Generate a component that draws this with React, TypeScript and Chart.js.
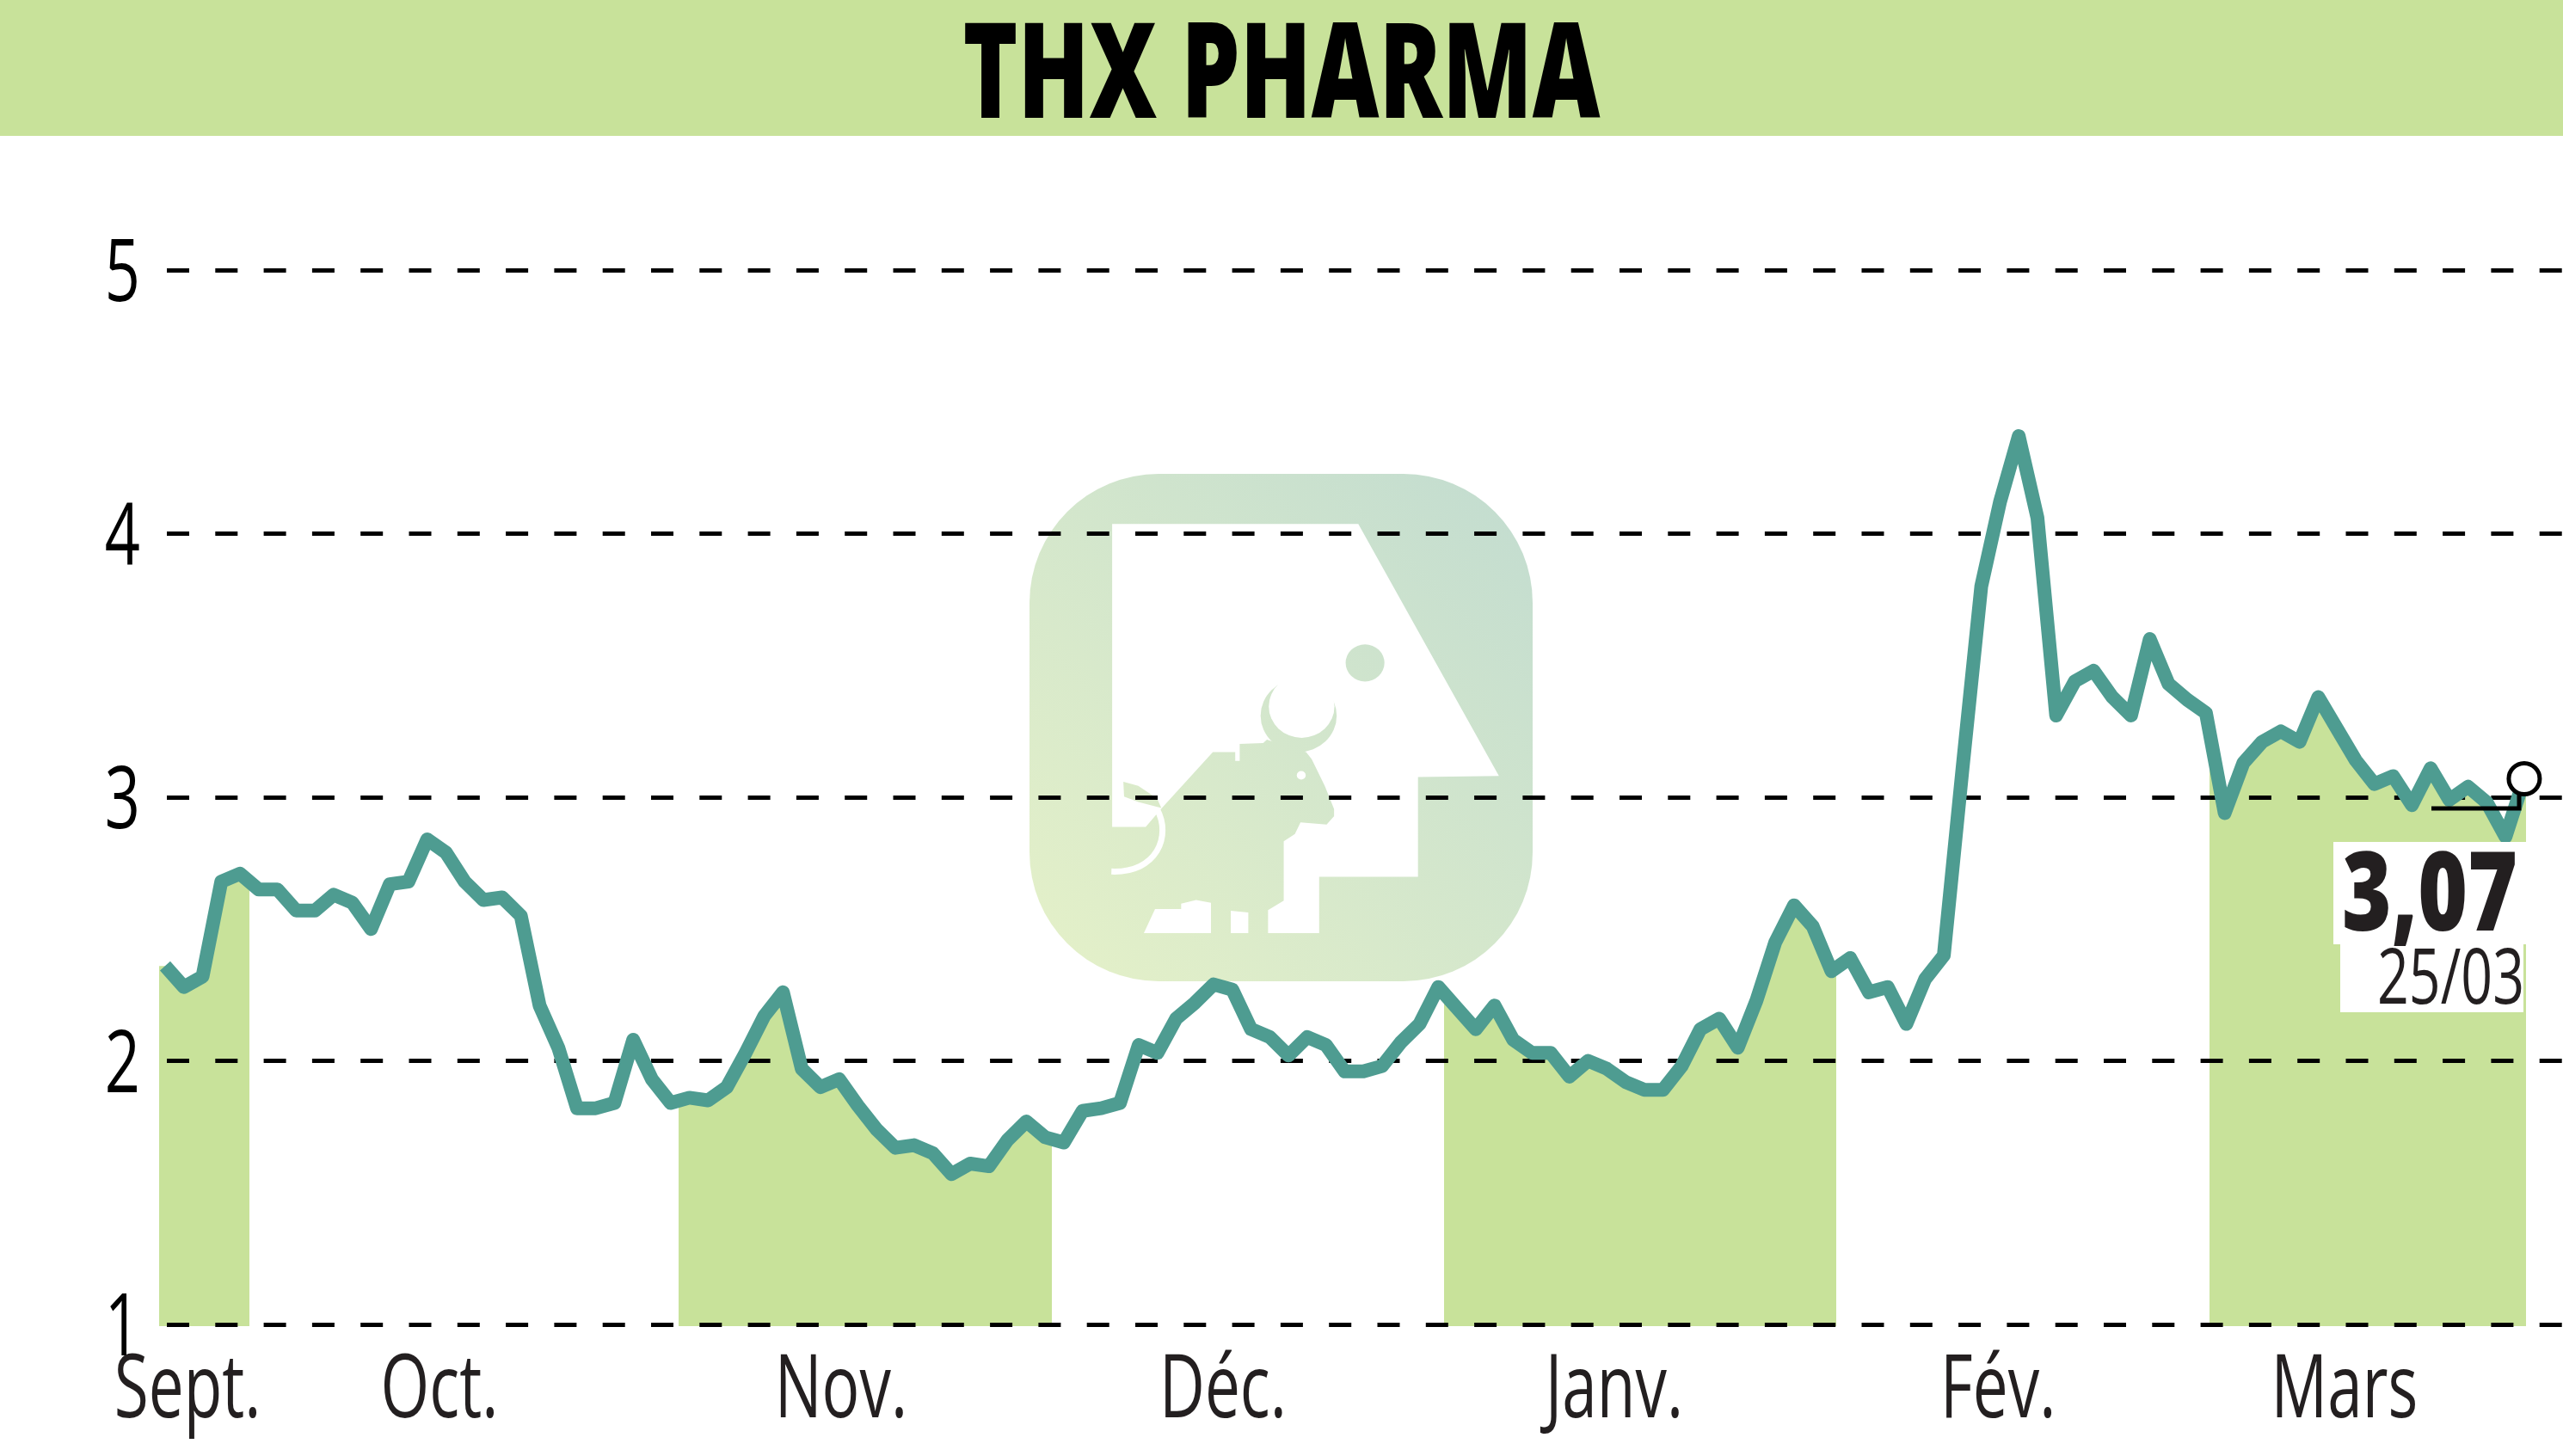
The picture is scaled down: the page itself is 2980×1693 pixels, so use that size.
import { useEffect, useRef } from "react";
import { Chart, registerables } from "chart.js";

Chart.register(...registerables);

const title = "THX PHARMA";
const monthLabels = ["Sept.", "Oct.", "Nov.", "Déc.", "Janv.", "Fév.", "Mars"];
const monthTickAt = [1.2, 14.65, 36.1, 56.5, 77.4, 97.9, 116.4];
const yTicks = [1, 2, 3, 4, 5];

// cours de cloture
const prices = [
  2.36, 2.28, 2.32, 2.68, 2.71, 2.65, 2.65, 2.57, 2.57, 2.63,
  2.6, 2.5, 2.67, 2.68, 2.84, 2.79, 2.68, 2.61, 2.62, 2.55,
  2.21, 2.05, 1.82, 1.82, 1.84, 2.08, 1.93, 1.84, 1.86, 1.85,
  1.9, 2.03, 2.17, 2.26, 1.97, 1.9, 1.93, 1.83, 1.74, 1.67,
  1.68, 1.65, 1.57, 1.61, 1.6, 1.7, 1.77, 1.71, 1.69, 1.81,
  1.82, 1.84, 2.06, 2.03, 2.16, 2.22, 2.29, 2.27, 2.12, 2.09,
  2.02, 2.09, 2.06, 1.96, 1.96, 1.98, 2.07, 2.14, 2.28, 2.2,
  2.12, 2.21, 2.08, 2.03, 2.03, 1.94, 2.0, 1.97, 1.92, 1.89,
  1.89, 1.98, 2.12, 2.16, 2.05, 2.23, 2.45, 2.59, 2.51, 2.34,
  2.39, 2.26, 2.28, 2.14, 2.31, 2.4, 3.11, 3.8, 4.12, 4.37,
  4.06, 3.31, 3.44, 3.48, 3.38, 3.31, 3.6, 3.43, 3.37, 3.32,
  2.94, 3.13, 3.21, 3.25, 3.21, 3.38, 3.26, 3.14, 3.05, 3.08,
  2.97, 3.11, 2.99, 3.04, 2.98, 2.85, 3.07,
];

// zones vertes (un mois sur deux), en indice de seance
const bandStarts = [-0.32, 27.42, 68.3, 109.2];
const bandEnds = [4.5, 47.35, 89.25, 126.1];

const lastValue = "3,07";
const lastDate = "25/03";

const FONT = '"Open Sans"';
const GREEN = "#C8E29A";
const LINE = "#4E9C91";

// texte resserre a l'horizontale, faute de police condensee.
// fit > 1 : largeur voulue en pixels, sinon facteur de resserrement
function squeezedText(
  ctx: CanvasRenderingContext2D,
  text: string,
  x: number,
  y: number,
  font: string,
  fit: number,
  align: CanvasTextAlign,
  color: string,
) {
  ctx.save();
  ctx.font = font;
  const squeeze = fit > 1 ? fit / ctx.measureText(text).width : fit;
  ctx.translate(x, y);
  ctx.scale(squeeze, 1);
  ctx.textAlign = align;
  ctx.textBaseline = "alphabetic";
  ctx.fillStyle = color;
  ctx.fillText(text, 0, 0);
  ctx.restore();
}

// le logo en filigrane derriere la courbe
function drawLogo(ctx: CanvasRenderingContext2D) {
  const px = (z: number) => 1150 + z / 2.306;
  const py = (z: number) => 520 + z / 2.412;
  const grad = ctx.createLinearGradient(1197, 1141, 1782, 551);
  grad.addColorStop(0, "#E5F1C8");
  grad.addColorStop(1, "#C2DCD0");

  const poly = (pts: number[][], fill: string | CanvasGradient) => {
    ctx.beginPath();
    pts.forEach((p, i) => (i ? ctx.lineTo(px(p[0]), py(p[1])) : ctx.moveTo(px(p[0]), py(p[1]))));
    ctx.closePath();
    ctx.fillStyle = fill;
    ctx.fill();
  };
  const blob = (cx: number, cy: number, r: number, fill: string | CanvasGradient) => {
    ctx.beginPath();
    ctx.ellipse(px(cx), py(cy), r / 2.306, r / 2.412, 0, 0, Math.PI * 2);
    ctx.fillStyle = fill;
    ctx.fill();
  };

  ctx.beginPath();
  ctx.roundRect(1197, 551, 585, 590, 150);
  ctx.fillStyle = grad;
  ctx.fill();

  poly(
    [
      [330, 215], [990, 215], [1367, 922], [1150, 925], [1150, 1205], [885, 1205], [885, 1363],
      [748, 1363], [748, 1298], [790, 1272], [790, 1105], [820, 1085], [835, 1052], [905, 1058],
      [925, 1035], [925, 1015], [900, 950], [865, 875], [850, 855], [830, 850], [745, 820], [735, 830],
      [672, 832], [672, 880], [660, 880], [660, 855], [600, 855], [465, 1010], [420, 1065], [330, 1065],
    ],
    "#fff",
  );
  poly([[360, 938], [400, 950], [450, 985], [462, 1012], [400, 995], [362, 980]], grad);
  poly([[445, 1295], [515, 1295], [515, 1280], [555, 1270], [595, 1278], [595, 1363], [415, 1363]], "#fff");
  poly([[648, 1300], [695, 1305], [695, 1363], [648, 1363]], "#fff");

  // cornes : un disque creuse par un disque blanc
  blob(830, 753, 102, grad);
  blob(838, 727, 88, "#fff");

  // queue
  ctx.beginPath();
  ctx.moveTo(px(450), py(1015));
  ctx.bezierCurveTo(px(490), py(1090), px(450), py(1195), px(328), py(1190));
  ctx.strokeStyle = "#fff";
  ctx.lineWidth = 7;
  ctx.stroke();

  // oeil et point
  blob(837, 920, 12, "#fff");
  blob(1008, 605, 52, grad);
}

const backdropPlugin = {
  id: "backdrop",
  beforeDraw(chart: any) {
    const { ctx, scales } = chart;
    ctx.save();
    ctx.fillStyle = GREEN;
    ctx.fillRect(0, 0, 2980, 158);
    squeezedText(ctx, title, 1490, 137, `800 155px ${FONT}`, 741, "center", "#000");

    drawLogo(ctx);

    const base = scales.y.getPixelForValue(1) + 2;
    bandStarts.forEach((start, b) => {
      const left = Math.round(scales.x.getPixelForValue(start));
      const right = Math.round(scales.x.getPixelForValue(bandEnds[b]));
      ctx.save();
      ctx.beginPath();
      ctx.rect(left, 0, right - left, base);
      ctx.clip();
      ctx.beginPath();
      ctx.moveTo(0, base);
      ctx.lineTo(0, scales.y.getPixelForValue(prices[0]));
      prices.forEach((v, i) => ctx.lineTo(scales.x.getPixelForValue(i), scales.y.getPixelForValue(v)));
      ctx.lineTo(2980, scales.y.getPixelForValue(3.0));
      ctx.lineTo(2980, base);
      ctx.closePath();
      ctx.fillStyle = GREEN;
      ctx.fill();
      ctx.restore();
    });
    ctx.restore();
  },
};

const labelsPlugin = {
  id: "labels",
  afterDraw(chart: any) {
    const { ctx, scales } = chart;

    // renvoi du dernier cours
    ctx.save();
    ctx.strokeStyle = "#000";
    ctx.lineWidth = 5;
    ctx.beginPath();
    ctx.moveTo(2929, 922);
    ctx.lineTo(2929, 940);
    ctx.lineTo(2827, 940);
    ctx.stroke();
    ctx.fillStyle = "#fff";
    ctx.fillRect(2713, 979, 225, 119);
    ctx.fillRect(2721, 1098, 213, 79);
    ctx.restore();
    squeezedText(ctx, lastValue, 2927, 1082, `800 127px ${FONT}`, 204, "right", "#231F20");
    squeezedText(ctx, lastDate, 2935, 1167, `90px ${FONT}`, 171, "right", "#231F20");

    yTicks.forEach((v) => {
      squeezedText(ctx, String(v), 163, scales.y.getPixelForValue(v) + 36, `100px ${FONT}`, 0.72, "right", "#000");
    });
    monthLabels.forEach((label, i) => {
      squeezedText(ctx, label, scales.x.getPixelForValue(monthTickAt[i]), 1648, `102px ${FONT}`, 0.715, "center", "#231F20");
    });
  },
};

export default function App() {
  const canvasRef = useRef<HTMLCanvasElement | null>(null);

  useEffect(() => {
    if (!canvasRef.current) return;
    document.body.style.margin = "0";

    const chart = new Chart(canvasRef.current, {
      type: "line",
      data: {
        datasets: [
          {
            // petit rond sur le dernier cours
            data: [{ x: prices.length - 1, y: prices[prices.length - 1] }],
            pointRadius: 18,
            pointBorderWidth: 5,
            pointBackgroundColor: "#fff",
            pointBorderColor: "#000",
            showLine: false,
            clip: false,
          },
          {
            data: prices.map((y, x) => ({ x, y })),
            borderColor: LINE,
            borderWidth: 16,
            borderJoinStyle: "round",
            borderCapStyle: "butt",
            pointRadius: 0,
            tension: 0,
            fill: false,
            clip: false,
          },
        ],
      } as any,
      options: {
        responsive: false,
        animation: false,
        devicePixelRatio: 1,
        layout: { autoPadding: false, padding: { top: 314, left: 0, right: 0, bottom: 0 } },
        plugins: { legend: { display: false }, tooltip: { enabled: false } },
        scales: {
          x: {
            type: "linear",
            min: -0.32,
            max: 128.07,
            grid: { display: false },
            border: { display: false },
            ticks: { display: false },
            afterFit: (scale: any) => {
              scale.height = 153;
            },
          },
          y: {
            min: 1,
            max: 5,
            ticks: { display: false, stepSize: 1 },
            grid: { color: "#000", lineWidth: 5, drawTicks: false },
            border: { display: false, dash: [26, 30.3], dashOffset: 47.3 },
            afterFit: (scale: any) => {
              scale.width = 185;
            },
          },
        },
      } as any,
      plugins: [backdropPlugin, labelsPlugin],
    });

    return () => chart.destroy();
  }, []);

  return <canvas ref={canvasRef} width={2980} height={1693} style={{ display: "block" }} />;
}
